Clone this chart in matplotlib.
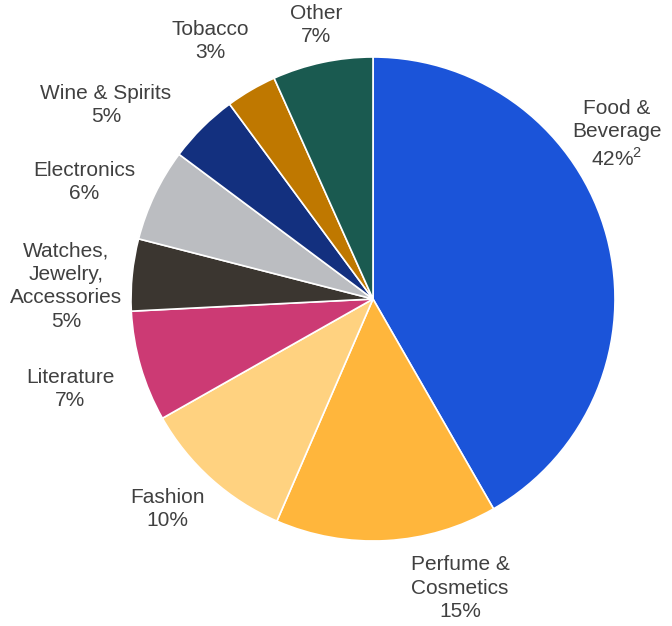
import matplotlib
matplotlib.use('Agg')
import matplotlib.pyplot as plt

plt.rcParams['font.family'] = ['Liberation Sans', 'DejaVu Sans']

# Дані
categories = ['Food &\nBeverage', 'Perfume &\nCosmetics', 'Fashion', 'Literature',
              'Watches,\nJewelry,\nAccessories', 'Electronics', 'Wine & Spirits',
              'Tobacco', 'Other']
shares = [41.7, 14.8, 10.3, 7.4, 4.8, 6.2, 4.7, 3.4, 6.7]
pct_labels = ['42%$^{\\mathregular{2}}$', '15%', '10%', '7%', '5%', '6%', '5%', '3%', '7%']
colors = ['#1B54D9', '#FFB63C', '#FFD280', '#CC3A74', '#3B3630',
          '#BBBDC1', '#13307F', '#BF7800', '#1A5A50']

# Позиції підписів (пікселі)
label_pos = [(617, 134), (460, 588), (167, 509), (70, 389), (66, 286),
             (84, 182), (106, 105), (210, 41), (316, 25)]

W, H = 672, 626
fig = plt.figure(figsize=(W / 100, H / 100), dpi=100)
ax = fig.add_axes([0, 0, 1, 1])
ax.axis('off')

ax.pie(shares, colors=colors, startangle=90, counterclock=False,
       center=(373, H - 299), radius=242,
       wedgeprops={'edgecolor': 'white', 'linewidth': 1.2})
ax.set_xlim(0, W)
ax.set_ylim(0, H)
ax.set_aspect('equal')

for cat, lab, (x, y) in zip(categories, pct_labels, label_pos):
    ax.text(x, H - y, f'{cat}\n{lab}', ha='center', va='center',
            fontsize=15, color='#404040', linespacing=1.3)

plt.savefig('out.png', dpi=100)
plt.close()
